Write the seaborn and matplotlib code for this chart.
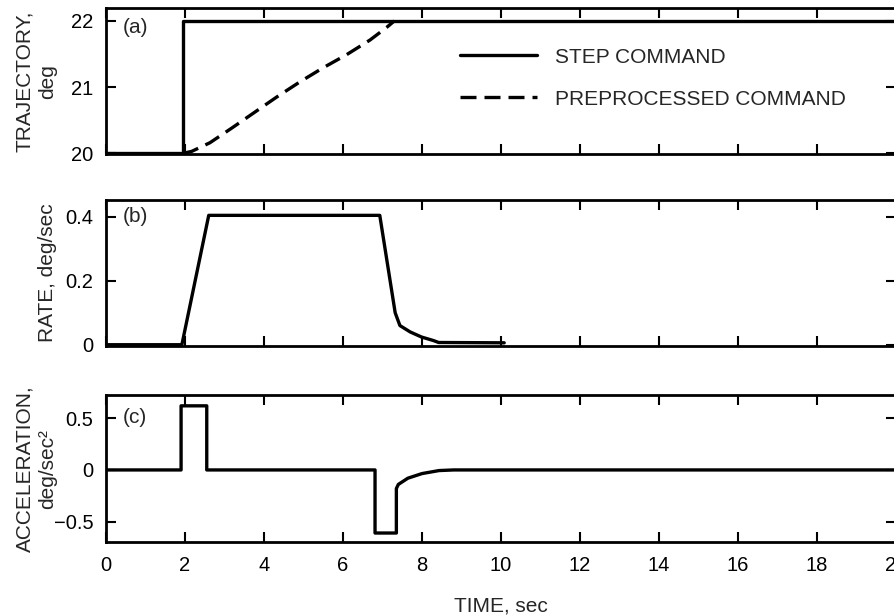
import numpy as np
import pandas as pd
import matplotlib
matplotlib.use("Agg")
import matplotlib.pyplot as plt
import seaborn as sns

# (a) trajectory, deg
time_step = [0.0, 1.95, 1.95, 20.0]
traj_step = [20.0, 20.0, 22.0, 22.0]
time_pre = [1.95, 2.17, 2.63, 3.18, 3.81, 4.32, 4.91, 5.49, 6.09, 6.68, 7.1, 7.3]
traj_pre = [20.0, 20.03, 20.16, 20.38, 20.64, 20.85, 21.08, 21.29, 21.49, 21.71, 21.9, 22.0]

# (b) rate, deg/sec
time_rate = [0.0, 1.92, 2.6, 6.93, 7.32, 7.44, 7.7, 7.99, 8.29, 8.42, 10.08]
rate = [0.0, 0.0, 0.405, 0.405, 0.10, 0.06, 0.04, 0.024, 0.013, 0.007, 0.006]

# (c) acceleration, deg/sec^2
time_acc = [0.0, 1.9, 1.9, 2.55, 2.55, 6.81, 6.81, 7.35, 7.35, 7.4, 7.64, 8.0, 8.43, 8.8, 20.0]
acc = [0.0, 0.0, 0.62, 0.62, 0.0, 0.0, -0.61, -0.61, -0.18, -0.14, -0.08, -0.035, -0.006, 0.0, 0.0]

x_ticks = [0, 2, 4, 6, 8, 10, 12, 14, 16, 18, 20]

sns.set_theme(style="ticks")
plt.rcParams['font.family'] = ['Liberation Sans', 'DejaVu Sans']
plt.rcParams['axes.linewidth'] = 2.0
plt.rcParams['xtick.major.width'] = 1.5
plt.rcParams['ytick.major.width'] = 1.5

fig = plt.figure(figsize=(8.94, 6.16), dpi=100)
left, width = 0.1186, 0.8837
ax_a = fig.add_axes([left, 0.750, width, 0.2365])
ax_b = fig.add_axes([left, 0.4383, width, 0.237])
ax_c = fig.add_axes([left, 0.1196, width, 0.2392])

lw = 2.4
sns.lineplot(x=time_step, y=traj_step, ax=ax_a, color="black", linewidth=lw,
             sort=False, estimator=None, label="STEP COMMAND")
sns.lineplot(x=time_pre, y=traj_pre, ax=ax_a, color="black", linewidth=lw,
             sort=False, estimator=None, label="PREPROCESSED COMMAND")
ax_a.lines[1].set_dashes([4.8, 2.4])

sns.lineplot(x=time_rate, y=rate, ax=ax_b, color="black", linewidth=lw,
             sort=False, estimator=None)
sns.lineplot(x=time_acc, y=acc, ax=ax_c, color="black", linewidth=lw,
             sort=False, estimator=None)

ax_a.set_ylim(19.99, 22.19)
ax_a.set_yticks([20, 21, 22])
ax_b.set_ylim(-0.004, 0.453)
ax_b.set_yticks([0, 0.2, 0.4])
ax_b.set_yticklabels(["0", "0.2", "0.4"])
ax_c.set_ylim(-0.70, 0.725)
ax_c.set_yticks([-0.5, 0, 0.5])
ax_c.set_yticklabels(["\u22120.5", "0", "0.5"])

for ax in (ax_a, ax_b, ax_c):
    ax.set_xlim(0, 20)
    ax.set_xticks(x_ticks)
    ax.tick_params(direction="in", top=True, right=True, length=7,
                   labelsize=14.5, colors="black")
    ax.tick_params(axis="y", pad=9)
    ax.tick_params(axis="x", pad=10)
    for s in ax.spines.values():
        s.set_color("black")
    ax.set_xlabel("")

ax_a.tick_params(labelbottom=False)
ax_b.tick_params(labelbottom=False)
ax_c.set_xticklabels([str(t) for t in x_ticks])
ax_c.set_xlabel("TIME, sec", fontsize=15, labelpad=15)

ax_a.set_ylabel("TRAJECTORY,\ndeg", fontsize=15, linespacing=1.25)
ax_b.set_ylabel("RATE, deg/sec", fontsize=15)
ax_c.set_ylabel("ACCELERATION,\ndeg/sec\u00b2", fontsize=15, linespacing=1.25)
for ax in (ax_a, ax_b, ax_c):
    ax.yaxis.set_label_coords(-0.062, 0.5)

ax_a.text(0.021, 0.87, "(a)", transform=ax_a.transAxes, fontsize=15, va="center")
ax_b.text(0.021, 0.89, "(b)", transform=ax_b.transAxes, fontsize=15, va="center")
ax_c.text(0.021, 0.845, "(c)", transform=ax_c.transAxes, fontsize=15, va="center")

leg = ax_a.legend(loc="upper left", bbox_to_anchor=(0.448, 0.73), frameon=False,
                  fontsize=15, handlelength=3.7, handletextpad=0.87,
                  labelspacing=1.1, borderpad=0, borderaxespad=0)

fig.savefig("out.png", dpi=100)
